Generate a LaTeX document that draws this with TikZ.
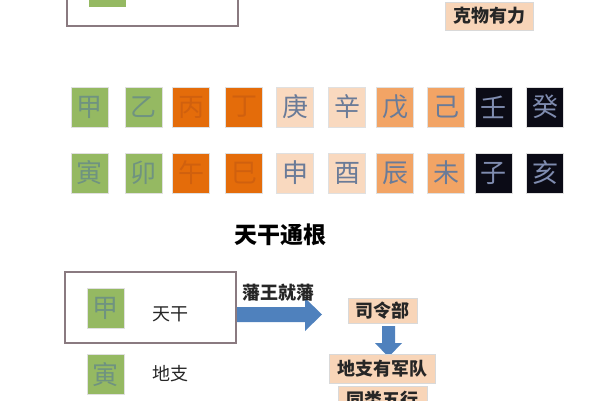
\documentclass[tikz,border=0pt]{standalone}
\usepackage{fontspec}
\newfontfamily\cjk{Noto Sans CJK SC}
\usetikzlibrary{positioning}
\definecolor{gz}{HTML}{95B962}
\definecolor{dor}{HTML}{E46C0A}
\definecolor{pch}{HTML}{F9D9BF}
\definecolor{lor}{HTML}{F2A465}
\definecolor{blk}{HTML}{0B0B16}
\definecolor{txb}{HTML}{6A7B98}
\definecolor{txg}{HTML}{6F9380}
\definecolor{txo}{HTML}{D0600E}
\definecolor{txd}{HTML}{7F8CB0}
\definecolor{frm}{HTML}{8A7A80}
\definecolor{arr}{HTML}{4F81BD}
\definecolor{lbox}{HTML}{F8D5B8}
\tikzset{
  cell/.style={minimum width=37pt,minimum height=40pt,inner sep=0pt,draw=black!12,line width=0.5pt,font=\cjk\fontsize{26}{26}\selectfont},
  cg/.style={cell,fill=gz,text=txg},
  cd/.style={cell,fill=dor,text=txo},
  cp/.style={cell,fill=pch,text=txb},
  cl/.style={cell,fill=lor,text=txb},
  ck/.style={cell,fill=blk,text=txd},
  lbl/.style={draw=black!15,fill=lbox,inner sep=1pt,font=\cjk\bfseries\fontsize{18}{18}\selectfont,text=black!85},
  frame/.style={draw=frm,line width=1.3pt},
  plain/.style={font=\cjk\fontsize{18}{18}\selectfont,text=black!85},
}
\begin{document}
\begin{tikzpicture}[x=1pt,y=-1pt]
\useasboundingbox (0,0) rectangle (600,400);
\clip (0,0) rectangle (600,400);
% top fragment
\draw[frame] (67,-10) rectangle (238,26);
\node[cg,minimum height=20pt,anchor=south west,draw=none] (topsq) at (89,7) {};
\node[lbl,minimum width=88pt,minimum height=28pt] (kewu) at (489,16) {克物有力};
% row 1
\node[cg] (a1) at (89.5,107) {甲};
\node[cg] (a2) at (143.5,107) {乙};
\node[cd] (a3) at (191,107) {丙};
\node[cd] (a4) at (244,107) {丁};
\node[cp] (a5) at (295,107) {庚};
\node[cp] (a6) at (347,107) {辛};
\node[cl] (a7) at (395,107) {戊};
\node[cl] (a8) at (446,107) {己};
\node[ck] (a9) at (493.5,107) {壬};
\node[ck] (a10) at (545,107) {癸};
% row 2
\node[cg] (b1) at (89.5,173) {寅};
\node[cg] (b2) at (143.5,173) {卯};
\node[cd] (b3) at (191,173) {午};
\node[cd] (b4) at (244,173) {巳};
\node[cp] (b5) at (295,173) {申};
\node[cp] (b6) at (347,173) {酉};
\node[cl] (b7) at (395,173) {辰};
\node[cl] (b8) at (446,173) {未};
\node[ck] (b9) at (493.5,173) {子};
\node[ck] (b10) at (545,173) {亥};
% title
\node[font=\cjk\bfseries\fontsize{23}{23}\selectfont] (title) at (280,235) {天干通根};
% frame
\draw[frame] (65,272) rectangle (236,343);
\node[cg] (jia) at (105.5,308) {甲};
\node[plain] (tg) at (170,314) {天干};
\node[cg] (yin) at (105.5,374.5) {寅};
\node[plain] (dz) at (170,374) {地支};
% right arrow
\fill[arr] (237,307) -- (305,307) -- (305,298) -- (322,314.5) -- (305,331) -- (305,322) -- (237,322) -- cycle;
\node[font=\cjk\bfseries\fontsize{18}{18}\selectfont,text=black!85] (fw) at (278,293) {藩王就藩};
% right column
\node[lbl,minimum width=69pt,minimum height=25pt] (sl) at (382.5,311) {司令部};
\fill[arr] (382,326) -- (395,326) -- (395,343) -- (402,343) -- (388.5,357) -- (375,343) -- (382,343) -- cycle;
\node[lbl,minimum width=106pt,minimum height=29pt] (dzy) at (382,368.5) {地支有军队};
\node[lbl,minimum width=89pt,minimum height=28pt] (tl) at (382.5,400) {同类五行};
\end{tikzpicture}
\end{document}
